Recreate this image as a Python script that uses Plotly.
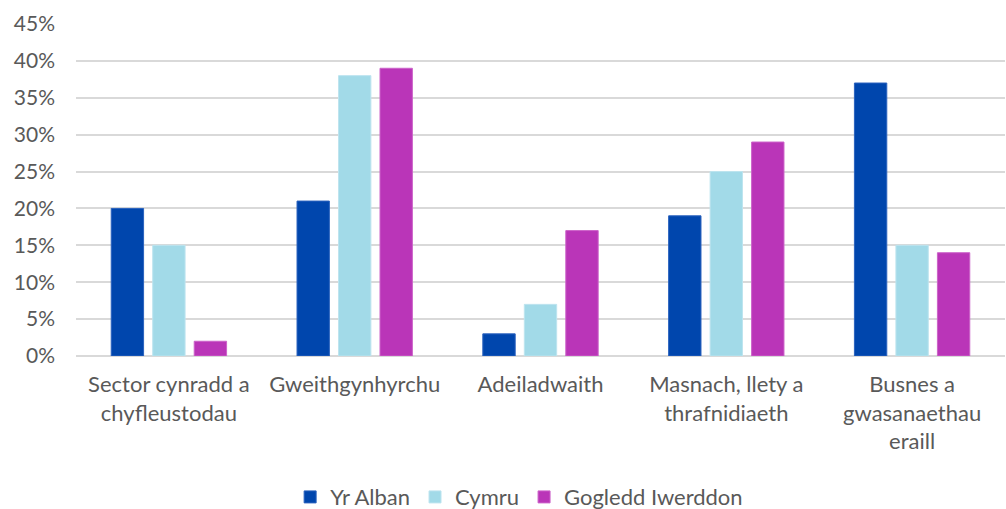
import plotly.graph_objects as go

# Category labels (Welsh), with manual line breaks as in the original
categories = [
    "Sector cynradd a<br>chyfleustodau",
    "Gweithgynhyrchu",
    "Adeiladwaith",
    "Masnach, llety a<br>thrafnidiaeth",
    "Busnes a<br>gwasanaethau<br>eraill",
]

# Share of employment by sector (%)
yr_alban = [20, 21, 3, 19, 37]
cymru = [15, 38, 7, 25, 15]
gogledd_iwerddon = [2, 39, 17, 29, 14]

series_names = ["Yr Alban", "Cymru", "Gogledd Iwerddon"]
series_colors = ["#0046AD", "#A2DAE8", "#BA35B8"]
series_lines = ["#2A62BE", "#BDE4EF", "#CC62C9"]

TEXT_COLOR = "#595959"
GRID_COLOR = "#D9D9D9"
FONT = "Lato, 'Open Sans', sans-serif"

fig = go.Figure()
for name, values, color, edge in zip(series_names,
                                     [yr_alban, cymru, gogledd_iwerddon],
                                     series_colors, series_lines):
    fig.add_trace(go.Bar(
        x=categories,
        y=values,
        name=name,
        marker=dict(color=color, line=dict(color=edge, width=1)),
        hovertemplate="%{y}%<extra>" + name + "</extra>",
    ))

fig.update_layout(
    width=1006,
    height=509,
    margin=dict(l=76, r=1, t=24, b=153, autoexpand=False),
    paper_bgcolor="white",
    plot_bgcolor="white",
    barmode="group",
    bargap=0.33,
    bargroupgap=0.22,
    font=dict(family=FONT, size=21, color=TEXT_COLOR),
    legend=dict(
        orientation="h",
        x=0.477, xanchor="center",
        y=-0.425, yanchor="middle",
        font=dict(size=22, color=TEXT_COLOR),
        itemwidth=30,
        traceorder="normal",
    ),
    xaxis=dict(
        showgrid=False,
        showline=False,
        ticks="",
        automargin=False,
        tickfont=dict(size=22, color=TEXT_COLOR),
        ticklabelstandoff=13,
    ),
    yaxis=dict(
        range=[0, 45],
        dtick=5,
        ticksuffix="%",
        showgrid=True,
        gridcolor=GRID_COLOR,
        gridwidth=1.5,
        zeroline=True,
        zerolinecolor=GRID_COLOR,
        zerolinewidth=1.5,
        showline=False,
        ticks="",
        automargin=False,
        tickfont=dict(size=21, color=TEXT_COLOR),
        ticklabelstandoff=20,
    ),
)

# the page's default body margin shifts the figure; drop it
fig.write_html(
    "out.html",
    config={"displayModeBar": False},
    post_script="document.body.style.margin='0';"
                "Plotly.Plots.resize(document.getElementById('{plot_id}'));",
)
